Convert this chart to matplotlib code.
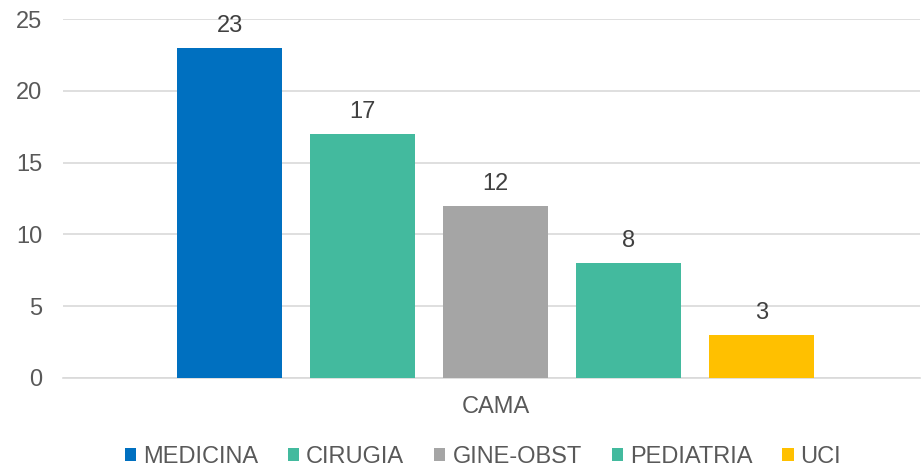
import matplotlib
matplotlib.use("Agg")
import matplotlib.pyplot as plt
import numpy as np

categories = ["CAMA"]
series = ["MEDICINA", "CIRUGIA", "GINE-OBST", "PEDIATRIA", "UCI"]
values = [23, 17, 12, 8, 3]
colors = ["#0070C0", "#43BA9E", "#A5A5A5", "#43BA9E", "#FFC000"]
yticks = [0, 5, 10, 15, 20, 25]

plt.rcParams['font.family'] = ['Liberation Sans', 'DejaVu Sans']
FS = 17

fig = plt.figure(figsize=(9.23, 4.70), dpi=100)
ax = fig.add_axes([63/923, 1-378/470, (920-63)/923, (378-19)/470])

width = 0.79
positions = np.arange(len(series))
for i, (s, v, c) in enumerate(zip(series, values, colors)):
    ax.bar(positions[i], v, width=width, color=c, label=s, zorder=3)
    ax.annotate(str(v), (positions[i], v), xytext=(0, 11.5), textcoords='offset points',
                ha='center', va='baseline', fontsize=FS, color='#404040')

ax.set_xlim(-1.252, 5.19)
ax.set_ylim(0, 25)
ax.set_yticks(yticks)
ax.set_yticklabels([str(t) for t in yticks], fontsize=FS, color='#595959')
ax.yaxis.grid(True, color='#D9D9D9', linewidth=1.2, zorder=0)
ax.tick_params(axis='y', length=0, pad=15)
ax.set_xticks([np.mean(positions)])
ax.set_xticklabels(categories, fontsize=FS, color='#595959')
ax.tick_params(axis='x', length=0, pad=13)
for sp in ['top', 'right', 'left']:
    ax.spines[sp].set_visible(False)
ax.spines['bottom'].set_color('#D9D9D9')
ax.spines['bottom'].set_linewidth(1.2)

leg = fig.legend(loc='center', bbox_to_anchor=(483/923, 1-457/470), ncol=5,
                 frameon=False, fontsize=FS, handlelength=0.47, handleheight=0.47,
                 handletextpad=0.3, columnspacing=1.27, borderaxespad=0)
for t in leg.get_texts():
    t.set_color('#595959')

fig.savefig("out.png", dpi=100)
